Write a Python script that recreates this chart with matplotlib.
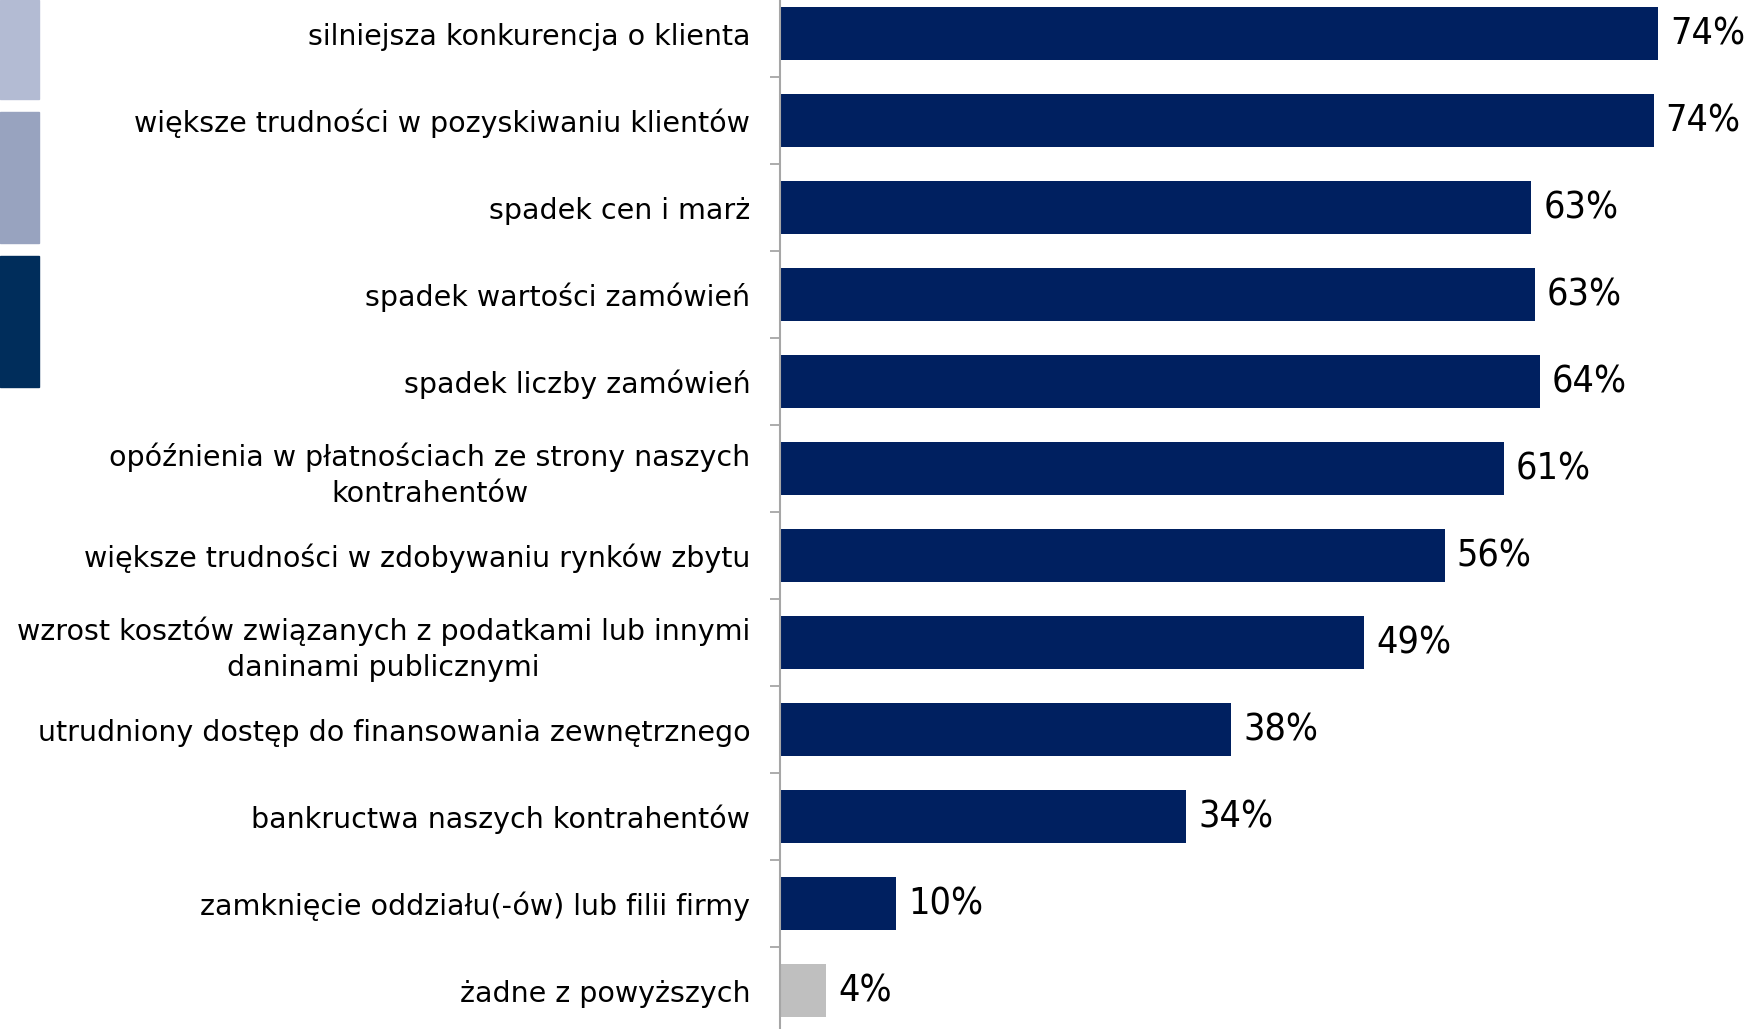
import matplotlib
matplotlib.use("Agg")
import matplotlib.pyplot as plt
from matplotlib import font_manager
from matplotlib.patches import Rectangle
import numpy as np

categories = [
    "silniejsza konkurencja o klienta",
    "większe trudności w pozyskiwaniu klientów",
    "spadek cen i marż",
    "spadek wartości zamówień",
    "spadek liczby zamówień",
    "opóźnienia w płatnościach ze strony naszych\nkontrahentów",
    "większe trudności w zdobywaniu rynków zbytu",
    "wzrost kosztów związanych z podatkami lub innymi\ndaninami publicznymi",
    "utrudniony dostęp do finansowania zewnętrznego",
    "bankructwa naszych kontrahentów",
    "zamknięcie oddziału(-ów) lub filii firmy",
    "żadne z powyższych",
]
values = [74.0, 73.6, 63.3, 63.6, 64.0, 61.0, 56.0, 49.2, 38.0, 34.2, 9.8, 3.9]
value_labels = ["74%", "74%", "63%", "63%", "64%", "61%", "56%", "49%", "38%", "34%", "10%", "4%"]

# pick a narrow font for the value labels if one is there
fonts = font_manager.fontManager.ttflist
names = {f.name for f in fonts}
if "Liberation Sans Narrow" in names:
    val_font = dict(family="Liberation Sans Narrow", fontsize=28)
elif any(f.name == "DejaVu Sans" and "condensed" in str(f.stretch) for f in fonts):
    val_font = dict(family="DejaVu Sans", fontstretch="condensed", fontsize=27)
else:
    val_font = dict(family="Roboto", fontsize=26)

W, H = 1745, 1029
fig = plt.figure(figsize=(W / 100, H / 100), dpi=100)

# axes: spine at x=780 px, category bands from y=-10 to y=1034 px
left = 780 / W
bottom = (H - 1034) / H
ax = fig.add_axes([left, bottom, 1 - left, 1044 / H])

navy = "#002060"
colors = [navy] * (len(values) - 1) + ["#bfbfbf"]
y = np.arange(len(categories))
ax.barh(y, values, height=0.61, color=colors)
ax.set_ylim(len(categories) - 0.5, -0.5)
ax.set_xlim(0, 81.3)

ax.set_yticks(y)
ax.set_yticklabels(categories, fontsize=20.5, family="DejaVu Sans",
                   multialignment="center", linespacing=1.35)
ax.tick_params(axis="y", which="major", length=0, pad=21.5)
ax.set_yticks(np.arange(len(categories) + 1) - 0.5, minor=True)
ax.tick_params(axis="y", which="minor", length=7.5, width=1.3, color="#a6a6a6")
ax.set_xticks([])

for s in ["top", "right", "bottom"]:
    ax.spines[s].set_visible(False)
ax.spines["left"].set_color("#a6a6a6")
ax.spines["left"].set_linewidth(1.5)

for yi, v, lab in zip(y, values, value_labels):
    ax.annotate(lab, (v, yi), xytext=(12, -1), textcoords="offset pixels",
                va="center", ha="left", color="black", **val_font)

# fragments of a legend at the left edge
for y0, y1, c in [(0, 99, "#b3bbd3"), (112, 243, "#98a3bf"), (256, 387, "#002d5b")]:
    fig.patches.append(Rectangle((0, 1 - y1 / H), 39 / W, (y1 - y0) / H,
                                 transform=fig.transFigure, color=c))

fig.savefig("out.png", dpi=100)
